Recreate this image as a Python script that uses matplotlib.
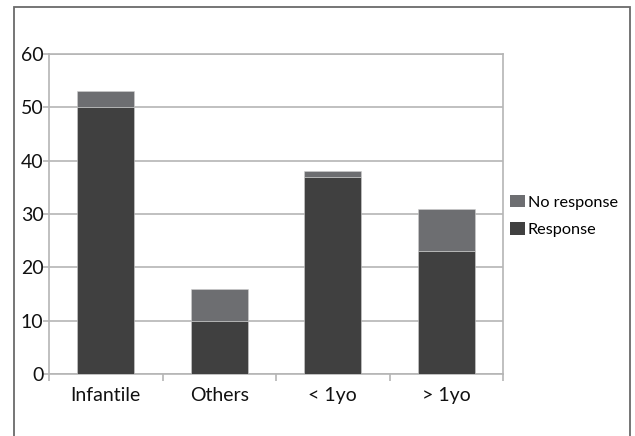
import matplotlib
matplotlib.use("Agg")
import matplotlib.pyplot as plt
from matplotlib.patches import Rectangle, Patch
import numpy as np

categories = ["Infantile", "Others", "< 1yo", "> 1yo"]
response = [50, 10, 37, 23]
no_response = [3, 6, 1, 8]
y_ticks = [0, 10, 20, 30, 40, 50, 60]

plt.rcParams["font.family"] = ["Lato", "DejaVu Sans"]
TICK_FS = 14
LEG_FS = 11.7

fig = plt.figure(figsize=(6.35, 4.36), dpi=100)
W, H = 635, 436

# outer chart frame (open at the bottom)
frame = Rectangle((14 / W, -0.05), (630 - 14) / W, 1.05 - 7 / H,
                  transform=fig.transFigure, fill=False,
                  edgecolor="#6a6a6a", linewidth=1.3, zorder=0)
fig.patches.append(frame)

ax = fig.add_axes([49 / W, 1 - 374 / H, (503 - 49) / W, (374 - 54) / H])

grid_c = "#b5b5b5"
resp_c = "#404040"
noresp_c = "#6d6e71"

x = np.arange(len(categories))
ax.bar(x, response, width=0.5, color=resp_c, edgecolor="#cfcfcf",
       linewidth=0.4, zorder=3, label="Response")
ax.bar(x, no_response, bottom=response, width=0.5, color=noresp_c,
       edgecolor="#cfcfcf", linewidth=0.4, zorder=3, label="No response")

ax.set_ylim(0, 60)
ax.set_xlim(-0.5, len(categories) - 0.5)
ax.set_yticks(y_ticks)
ax.set_yticklabels([str(v) for v in y_ticks], fontsize=TICK_FS, color="#111111")
ax.yaxis.grid(True, color=grid_c, linewidth=1.2, zorder=0)
ax.set_axisbelow(True)

ax.set_xticks(x)
ax.set_xticklabels(categories, fontsize=TICK_FS, color="#111111")
ax.set_xticks(np.arange(-0.5, len(categories)), minor=True)
ax.tick_params(axis="x", which="major", length=0, pad=9.5)
ax.tick_params(axis="x", which="minor", length=5, width=1.2, color=grid_c,
               direction="out")
ax.tick_params(axis="y", length=4, width=1.2, color=grid_c, direction="out",
               pad=0)

for s in ax.spines.values():
    s.set_color(grid_c)
    s.set_linewidth(1.2)

handles = [Patch(facecolor=noresp_c, label="No response"),
           Patch(facecolor=resp_c, label="Response")]
ax.legend(handles=handles, loc="center left",
          bbox_to_anchor=(510 / W, 1 - 216 / H), bbox_transform=fig.transFigure,
          frameon=False, fontsize=LEG_FS, handlelength=0.92, handleheight=0.8,
          handletextpad=0.18, labelspacing=0.8, borderaxespad=0,
          borderpad=0)

fig.savefig("out.png", dpi=100)
